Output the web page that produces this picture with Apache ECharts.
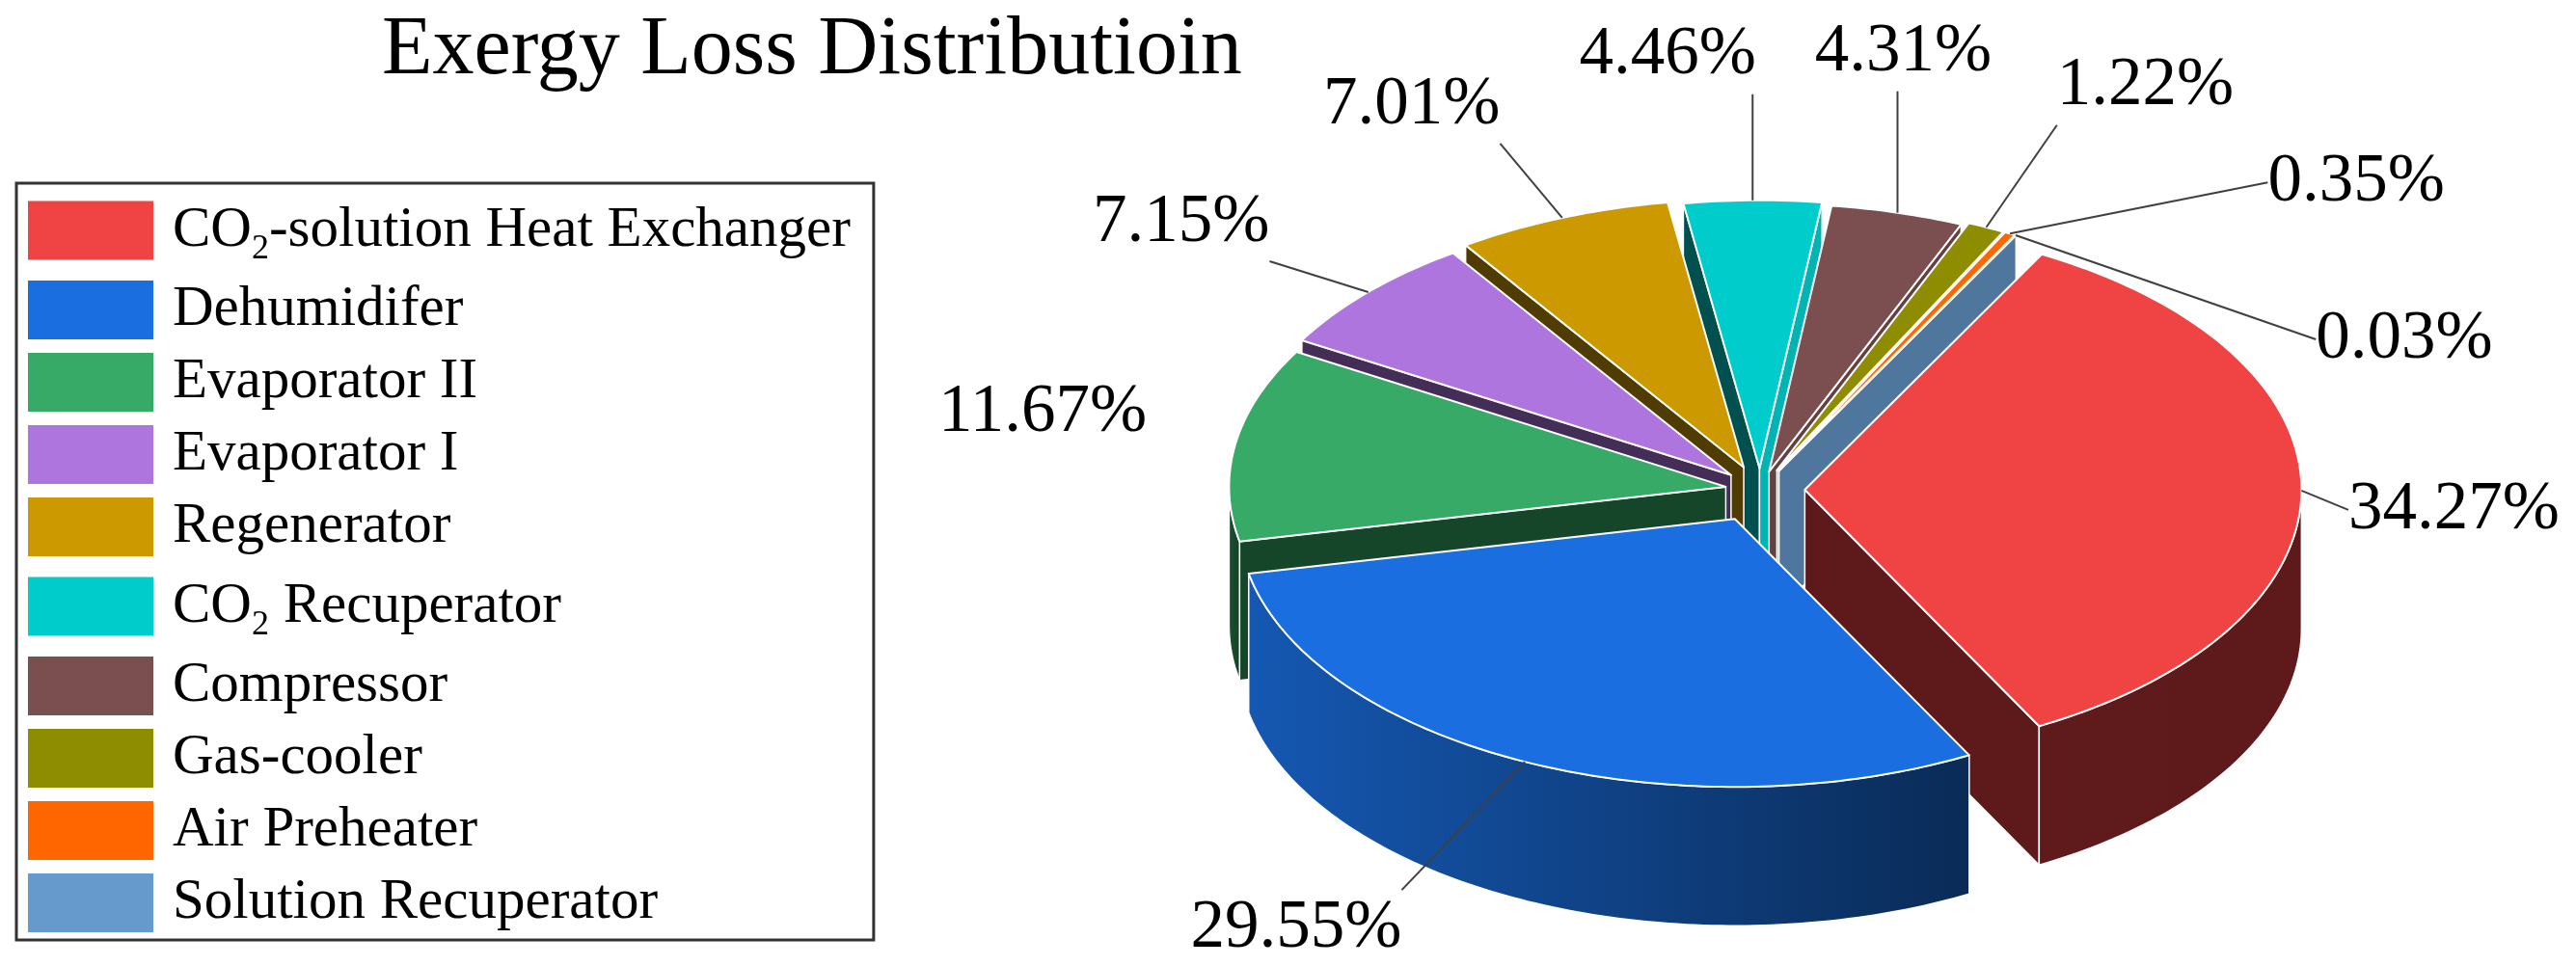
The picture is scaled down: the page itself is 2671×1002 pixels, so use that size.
<!DOCTYPE html>
<html>
<head>
<meta charset="utf-8">
<title>Exergy Loss Distribution</title>
<script src="https://cdn.jsdelivr.net/npm/echarts@6/dist/echarts.min.js"></script>
<style>html,body{margin:0;padding:0;background:#fff;}</style>
</head>
<body>
<div id="main" style="width:2671px;height:1002px;"></div>
<script>
// data
var names = ['CO2-solution Heat Exchanger', 'Dehumidifer', 'Evaporator II', 'Evaporator I', 'Regenerator',
             'CO2 Recuperator', 'Compressor', 'Gas-cooler', 'Air Preheater', 'Solution Recuperator'];
var values = [34.27, 29.55, 11.67, 7.15, 7.01, 4.46, 4.31, 1.22, 0.35, 0.03];

// styling
var colors = ['#f04343', '#1a6edf', '#36aa66', '#ae75de', '#cc9900', '#00cccc', '#7b4f4f', '#8e8c00', '#ff6600', '#6699cc'];
var explode = [0.09, 0.12, 0.07, 0.08, 0.09, 0.08, 0.07, 0.08, 0.08, 0.08];
var labelOffset = [[158, 20], [-237, 173], [-200, -32], [-194, -72], [-156, -117],
                   [-88, -150], [6, -166], [165, -146], [359, -53], [403, 108]];
var labelLine = [true, true, false, true, true, true, true, true, true, true];

var FONT = '"Liberation Serif", "Times New Roman", serif';
var P = {cx: 1825, cy: 508, rx: 515, ry: 278, depth: 144, start: 28.5};

var total = values.reduce(function (s, v) { return s + v; }, 0);
var angles = [];
var acc = 0;
values.forEach(function (v) {
    var a0 = P.start + 360 * acc / total;
    acc += v;
    angles.push([a0, P.start + 360 * acc / total]);
});

function rad(d) { return d * Math.PI / 180; }
function pt(c, th) { return [c[0] + P.rx * Math.sin(rad(th)), c[1] - P.ry * Math.cos(rad(th))]; }
function shade(hex, k) {
    var r = parseInt(hex.substr(1, 2), 16), g = parseInt(hex.substr(3, 2), 16), b = parseInt(hex.substr(5, 2), 16);
    return 'rgb(' + Math.round(r * k) + ',' + Math.round(g * k) + ',' + Math.round(b * k) + ')';
}
function clamp01(v) { return Math.min(1, Math.max(0, v)); }

var ctx = document.createElement('canvas').getContext('2d');
ctx.font = '71px ' + FONT;

function renderSlice(i) {
    var th0 = angles[i][0], th1 = angles[i][1], mid = (th0 + th1) / 2;
    var e = explode[i];
    var c = [P.cx + e * P.rx * Math.sin(rad(mid)), P.cy - e * P.ry * Math.cos(rad(mid))];
    var D = P.depth;
    var base = Math.round(200 - 100 * Math.cos(rad(mid))) * 10;
    var kids = [];

    // radial walls, only the ones facing the viewer
    [[th0, th0 - 90], [th1, th1 + 90]].forEach(function (w) {
        var n = rad(w[1]);
        if (Math.cos(n) >= 0) return;
        var p = pt(c, w[0]);
        var s = Math.max(0, Math.sin(n));
        kids.push({
            type: 'polygon', z2: base,
            shape: {points: [c, p, [p[0], p[1] + D], [c[0], c[1] + D]]},
            style: {fill: shade(colors[i], 0.39 + 0.5 * s * s), stroke: '#fff', lineWidth: 1.5, lineJoin: 'round'}
        });
    });

    // outer wall, front half only
    var a = Math.max(th0, 90), b = Math.min(th1, 270);
    if (b > a) {
        var top = [], bot = [];
        var n = Math.max(2, Math.ceil(b - a));
        for (var j = 0; j <= n; j++) {
            var p = pt(c, a + (b - a) * j / n);
            top.push(p);
            bot.unshift([p[0], p[1] + D]);
        }
        var pa = pt(c, a), pb = pt(c, b);
        var kl = 0.39 + 0.41 * clamp01((b - 150) / 100) * clamp01((b - a) / 60);
        kids.push({
            type: 'polygon', z2: base + 1,
            shape: {points: top.concat(bot)},
            style: {
                fill: new echarts.graphic.LinearGradient(pb[0], 0, pa[0], 0, [
                    {offset: 0, color: shade(colors[i], kl)},
                    {offset: 1, color: shade(colors[i], 0.39)}
                ], true),
                stroke: '#fff', lineWidth: 1.5, lineJoin: 'round'
            }
        });
    }

    // top face
    var face = [c];
    var m = Math.max(1, Math.ceil(th1 - th0));
    for (var q = 0; q <= m; q++) face.push(pt(c, th0 + (th1 - th0) * q / m));
    kids.push({
        type: 'polygon', z2: base + 5,
        shape: {points: face},
        style: {fill: colors[i], stroke: '#fff', lineWidth: 2, lineJoin: 'round'}
    });

    // label and leader line
    var anchor = pt(c, mid);
    var txt = values[i].toFixed(2) + '%';
    var lx = anchor[0] + labelOffset[i][0], ly = anchor[1] + labelOffset[i][1];
    var hw = ctx.measureText(txt).width / 2, hh = 40;
    kids.push({
        type: 'text', z2: 100000,
        style: {text: txt, x: lx, y: ly, align: 'center', verticalAlign: 'middle',
                fontSize: 71, fontFamily: FONT, fill: '#000'}
    });
    if (labelLine[i]) {
        var gx = Math.max(0, Math.abs(anchor[0] - lx) - hw);
        var gy = Math.max(0, Math.abs(anchor[1] - ly) - hh);
        var ex, ey;
        if (gx > 3.5 * gy) {
            ex = anchor[0] < lx ? lx - hw : lx + hw;
            ey = ly;
        } else {
            ex = Math.min(lx + hw, Math.max(lx - hw, anchor[0]));
            ey = Math.min(ly + hh, Math.max(ly - hh, anchor[1]));
        }
        kids.push({
            type: 'line', z2: 99999,
            shape: {x1: ex, y1: ey, x2: anchor[0], y2: anchor[1]},
            style: {stroke: '#404040', lineWidth: 2}
        });
    }
    return {type: 'group', children: kids};
}

var series = names.map(function (name, i) {
    return {
        type: 'custom',
        name: name,
        coordinateSystem: 'none',
        silent: true,
        itemStyle: {color: colors[i]},
        data: [values[i]],
        renderItem: function () { return renderSlice(i); }
    };
});

var myChart = echarts.init(document.getElementById('main'));
var option = {
    backgroundColor: '#fff',
    animation: false,
    title: {
        text: 'Exergy Loss Distributioin',
        left: 396, top: 10, padding: 0,
        textStyle: {fontFamily: FONT, fontSize: 86, fontWeight: 'normal', color: '#000'}
    },
    legend: {
        orient: 'vertical',
        left: 17, top: 190,
        data: names,
        icon: 'rect',
        itemWidth: 130, itemHeight: 61, itemGap: 14,
        padding: [11, 24, 8, 12],
        borderColor: '#333', borderWidth: 3,
        selectedMode: false,
        formatter: function (n) {
            if (n.indexOf('CO2') === 0) return '{n|CO}{s|2}{n|' + n.slice(3) + '}';
            return '{n|' + n + '}';
        },
        textStyle: {
            padding: [0, 0, 0, 15],
            rich: {
                n: {fontFamily: FONT, fontSize: 59, lineHeight: 60, color: '#000'},
                s: {fontFamily: FONT, fontSize: 36, lineHeight: 36, padding: [40, 0, 0, 0], color: '#000'}
            }
        }
    },
    series: series
};
myChart.setOption(option);
</script>
</body>
</html>
